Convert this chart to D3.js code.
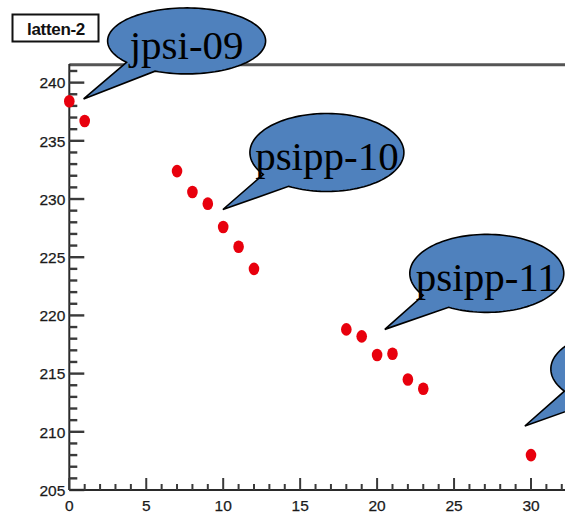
<!DOCTYPE html>
<html>
<head>
<meta charset="utf-8">
<script src="https://cdn.jsdelivr.net/npm/d3@7"></script>
<style>
  html, body { margin: 0; padding: 0; background: #fff; }
  svg { display: block; }
</style>
</head>
<body>
<svg id="chart" width="565" height="513"></svg>
<script>
// Run number on x, attenuation value on y
const runIndex = [0, 1, 7, 8, 9, 10, 11, 12, 18, 19, 20, 21, 22, 23, 30];
const atten = [238.4, 236.7, 232.4, 230.6, 229.6, 227.6, 225.9, 224.0, 218.8, 218.2, 216.6, 216.7, 214.5, 213.7, 208.0];

// Data-taking period callouts: label and the point the wedge targets
// (the last bubble sits at the right edge; its label lies beyond the frame)
const periodLabels = ["jpsi-09", "psipp-10", "psipp-11", ""];
const periodX = [0.93, 9.98, 20.5, 29.6];
const periodY = [238.6, 229.1, 218.8, 210.5];

const xTicks = [0, 5, 10, 15, 20, 25, 30];
const yTicks = [205, 210, 215, 220, 225, 230, 235, 240];
const title = "latten-2";

// Layout
const plot = { left: 69.3, top: 64, bottom: 490, pxPerX: 15.39 };
const bubble = [
  { rx: 79, ry: 33, dx: 103, dy: -58 },
  { rx: 77, ry: 39, dx: 104, dy: -57 },
  { rx: 77, ry: 39, dx: 102, dy: -56 },
  { rx: 77, ry: 39, dx: 103, dy: -57 }
];

const svg = d3.select("#chart");
const x = d3.scaleLinear().domain([0, 35]).range([plot.left, plot.left + 35 * plot.pxPerX]);
const y = d3.scaleLinear().domain([205, 241.6]).range([plot.bottom, plot.top]);

const defs = svg.append("defs");
defs.append("filter").attr("id", "soft")
  .attr("x", "-50%").attr("y", "-50%").attr("width", "200%").attr("height", "200%")
  .append("feGaussianBlur").attr("stdDeviation", 0.6);

const axisColor = "#2a2a2a";
const labelFont = "'Liberation Sans', Arial, sans-serif";

// Frame top line
svg.append("line")
  .attr("x1", plot.left).attr("x2", 600)
  .attr("y1", plot.top + 0.7).attr("y2", plot.top + 0.7)
  .attr("stroke", "#555").attr("stroke-width", 3);

// Y axis: line, major/minor ticks pointing inward
const gy = svg.append("g");
gy.append("line")
  .attr("x1", plot.left).attr("x2", plot.left)
  .attr("y1", plot.top).attr("y2", plot.bottom)
  .attr("stroke", axisColor).attr("stroke-width", 2);
const yMinor = d3.range(206, 242, 1).filter(v => v % 5 !== 0);
gy.selectAll("line.minor").data(yMinor).join("line")
  .attr("class", "minor")
  .attr("x1", plot.left).attr("x2", plot.left + 8)
  .attr("y1", d => y(d)).attr("y2", d => y(d))
  .attr("stroke", "#3a3a3a").attr("stroke-width", 2.4);
gy.selectAll("line.major").data(yTicks).join("line")
  .attr("class", "major")
  .attr("x1", plot.left).attr("x2", plot.left + 15)
  .attr("y1", d => y(d)).attr("y2", d => y(d))
  .attr("stroke", "#3a3a3a").attr("stroke-width", 2.4);
gy.selectAll("text").data(yTicks).join("text")
  .attr("x", plot.left - 4)
  .attr("y", d => y(d) + 5.8)
  .attr("text-anchor", "end")
  .attr("font-family", labelFont)
  .attr("font-size", 15.5)
  .attr("fill", "#1a1a1a")
  .attr("stroke", "#1a1a1a").attr("stroke-width", 0.25)
  .text(d => d);

// X axis
const gx = svg.append("g");
gx.append("line")
  .attr("x1", plot.left).attr("x2", 600)
  .attr("y1", plot.bottom).attr("y2", plot.bottom)
  .attr("stroke", axisColor).attr("stroke-width", 2);
const xMinor = d3.range(1, 35, 1).filter(v => v % 5 !== 0);
gx.selectAll("line.minor").data(xMinor).join("line")
  .attr("class", "minor")
  .attr("x1", d => x(d)).attr("x2", d => x(d))
  .attr("y1", plot.bottom).attr("y2", plot.bottom - 6)
  .attr("stroke", "#3a3a3a").attr("stroke-width", 2);
gx.selectAll("line.major").data(xTicks.concat([35])).join("line")
  .attr("class", "major")
  .attr("x1", d => x(d)).attr("x2", d => x(d))
  .attr("y1", plot.bottom).attr("y2", plot.bottom - 12)
  .attr("stroke", "#3a3a3a").attr("stroke-width", 2);
gx.selectAll("text").data(xTicks).join("text")
  .attr("x", d => x(d))
  .attr("y", plot.bottom + 20.5)
  .attr("text-anchor", "middle")
  .attr("font-family", labelFont)
  .attr("font-size", 15.5)
  .attr("fill", "#1a1a1a")
  .attr("stroke", "#1a1a1a").attr("stroke-width", 0.25)
  .text(d => d);

// Data points
svg.append("g").attr("filter", "url(#soft)")
  .selectAll("ellipse").data(runIndex).join("ellipse")
  .attr("cx", d => x(d))
  .attr("cy", (d, i) => y(atten[i]))
  .attr("rx", 5.3).attr("ry", 6.3)
  .attr("fill", "#e8000c");

// Title box
const tb = svg.append("g");
tb.append("rect")
  .attr("x", 12.5).attr("y", 14.5).attr("width", 86).attr("height", 27)
  .attr("fill", "#fff").attr("stroke", "#111").attr("stroke-width", 2);
tb.append("text")
  .attr("x", 56).attr("y", 35)
  .attr("text-anchor", "middle")
  .attr("font-family", labelFont)
  .attr("font-weight", "bold")
  .attr("font-size", 17)
  .attr("letter-spacing", -0.3)
  .attr("fill", "#111")
  .text(title);

// Wedge-ellipse callouts
function calloutPath(tx, ty, b) {
  const cx = tx + b.dx, cy = ty + b.dy;
  // parametric angle toward the tip
  const t0 = Math.atan2((ty - cy) / b.ry, (tx - cx) / b.rx);
  const half = 13 * Math.PI / 180;
  const p = d3.path();
  const n = 120;
  const start = t0 + half, end = t0 - half + 2 * Math.PI;
  for (let k = 0; k <= n; k++) {
    const t = start + (end - start) * k / n;
    const px = cx + b.rx * Math.cos(t), py = cy + b.ry * Math.sin(t);
    if (k === 0) p.moveTo(px, py); else p.lineTo(px, py);
  }
  p.lineTo(tx, ty);
  p.closePath();
  return { d: p.toString(), cx, cy };
}

const gc = svg.append("g");
periodLabels.forEach((label, i) => {
  const tx = x(periodX[i]), ty = y(periodY[i]);
  const c = calloutPath(tx, ty, bubble[i]);
  gc.append("path")
    .attr("d", c.d)
    .attr("fill", "#4f81bd")
    .attr("stroke", "#000")
    .attr("stroke-width", 1.6)
    .attr("stroke-linejoin", "miter");
  if (label) {
    gc.append("text")
      .attr("x", c.cx)
      .attr("y", c.cy + 18)
      .attr("text-anchor", "middle")
      .attr("font-family", "'Liberation Serif', 'Times New Roman', serif")
      .attr("font-size", 41)
      .attr("fill", "#000")
      .text(label);
  }
});
</script>
</body>
</html>
